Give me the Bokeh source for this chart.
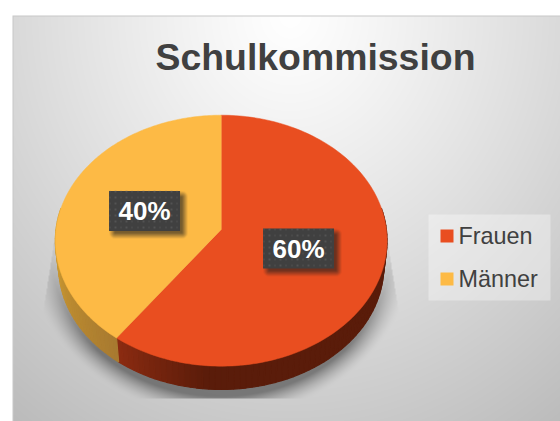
import numpy as np
from bokeh.embed import file_html
from bokeh.resources import INLINE
from bokeh.plotting import figure
from bokeh.models import Range1d, ColumnDataSource
from bokeh.core.properties import value

title = "Schulkommission"
names = ["Frauen", "Männer"]
shares = [60, 40]
colors = ["#E94E20", "#FDBA45"]

W, H = 560, 421
X0, Y0 = 0, 0
CX, CY = 220.7, 229.0    # pie apex on the image
A, B, K = 165.2, 124.5, 0.0892   # perspective of the disc
DEPTH, SC = 26.0, 0.98


def to_y(Y):
    return 421 - np.asarray(Y, dtype=float)


def disc(theta, f=1.0, s=1.0, dy=0.0):
    u, v = np.sin(theta) * f, -np.cos(theta) * f
    d = 1 - K * v
    return CX + s * A * u / d, CY + dy + s * B * v / d


p = figure(width=W, height=H, output_backend="svg", toolbar_location=None,
           x_range=Range1d(X0, X0 + W), y_range=Range1d(0, H), min_border=0,
           outline_line_color=None, background_fill_color="white", border_fill_color="white")
p.axis.visible = False
p.grid.visible = False

# Background: gradient, frame and the pie's soft shadow
yy, xx = np.mgrid[Y0 + 0.5:421 + 0.5:1, X0 + 0.5:X0 + W + 0.5:1]
t = np.sqrt(((xx - 290) / 390) ** 2 + ((yy - 15) / 430) ** 2)
g = 255 - 56 * np.clip(t, 0, 1.25) ** 1.15
rr = np.sqrt(((xx - 220.5) / 171) ** 2 + ((yy - 246) / 150) ** 2)
dist = np.clip((rr - 1) * 150, 0, None)
sh = 0.42 * np.clip(1 - dist / 20, 0, 1) ** 1.6
slope = (yy - 240) * 11 / 70
mask = (yy > 240) & (yy < 398) & (xx > np.maximum(54 - slope, 43)) & (xx < np.minimum(387 + slope, 398))
ramp = np.clip((yy - 240) / 110, 0.15, 1)
sh = sh * mask * ramp
g = g * (1 - sh)
bg = np.zeros(g.shape + (4,), dtype=np.uint8)
bg[..., :3] = np.clip(g, 0, 255)[..., None].astype(np.uint8)
bg[..., 3] = 255
white = (xx < 12) | (yy < 15)
bg[white, :3] = 255
edge = ((xx >= 12) & (xx < 13) & (yy >= 15)) | ((yy >= 15) & (yy < 16) & (xx >= 12))
bg[edge, :3] = 200
img = bg.view(np.uint32).reshape(g.shape)[::-1]
p.image_rgba(image=[img], x=X0, y=0, dw=W, dh=H)

# Pie geometry from the shares
fracs = np.array(shares, dtype=float) / sum(shares)
edges = np.concatenate([[0], np.cumsum(fracs)]) * 2 * np.pi

# Side wall strips
side_xs, side_ys, side_cols = [], [], []
strips = np.radians(np.linspace(80, 280, 101))


def mix(c1, c2, q):
    a = np.array([int(c1[i:i + 2], 16) for i in (1, 3, 5)], float)
    b = np.array([int(c2[i:i + 2], 16) for i in (1, 3, 5)], float)
    return "#%02x%02x%02x" % tuple(int(x) for x in a + (b - a) * q)


for a0, a1 in zip(strips[:-1], strips[1:]):
    for i in range(len(shares)):
        lo, hi = max(a0, edges[i]), min(a1, edges[i + 1])
        if hi <= lo:
            continue
        th = np.array([lo, hi])
        tx, ty = disc(th)
        bx, by = disc(th, s=SC, dy=DEPTH)
        side_xs.append([tx[0], tx[1], bx[1], bx[0]])
        side_ys.append(list(to_y([ty[0], ty[1], by[1], by[0]])))
        mid = (lo + hi) / 2
        if i == 0:
            q = np.clip((edges[1] - mid) / np.radians(32), 0, 1)
            side_cols.append(mix("#8C2C12", "#5A1C0A", q))
        else:
            q = np.clip((mid - edges[1]) / np.radians(50), 0, 1)
            side_cols.append(mix("#A87A30", "#CC9A32", q))
p.patches(side_xs, side_ys, fill_color=side_cols, line_color=side_cols, line_width=1.2)

# Top slices
for i, c in enumerate(colors):
    th = np.linspace(edges[i], edges[i + 1], 160)
    x, y = disc(th)
    x = np.concatenate([[CX], x])
    y = to_y(np.concatenate([[CY], y]))
    p.patch(x, y, fill_color=c, line_color=c, line_width=0.5)

# Data labels
BW, BH = 71, 40
mids = (edges[:-1] + edges[1:]) / 2
lx, ly = disc(mids, f=0.49)
lx = lx - 0.7
texts = ["%d%%" % s for s in shares]

# label shadows (on top of the pie)
ov = np.zeros(g.shape, dtype=float)
for cx, cy in zip(lx, ly):
    dx = np.clip(np.abs(xx - (cx + 4)) - BW / 2 + 2, 0, None)
    dy = np.clip(np.abs(yy - (cy + 4)) - BH / 2 + 2, 0, None)
    ov = np.maximum(ov, 0.6 * np.clip(1 - np.hypot(dx, dy) / 6, 0, 1))
ovr = np.zeros(g.shape + (4,), dtype=np.uint8)
ovr[..., :3] = 30
ovr[..., 3] = (ov * 255).astype(np.uint8)
p.image_rgba(image=[ovr.view(np.uint32).reshape(g.shape)[::-1]], x=X0, y=0, dw=W, dh=H)

p.rect(lx, to_y(ly), width=BW, height=BH, fill_color="#404040", line_color=None)

# dotted fill of the boxes
dots = np.zeros(g.shape + (4,), dtype=np.uint8)
dots[..., :3] = 120
for cx, cy in zip(lx, ly):
    ins = (np.abs(xx - cx) < BW / 2) & (np.abs(yy - cy) < BH / 2)
    on = (((xx - cx + BW / 2) % 5.6) < 1.5) & (((yy - cy + BH / 2) % 6) < 1.5)
    dots[..., 3][ins & on] = 90
p.image_rgba(image=[dots.view(np.uint32).reshape(g.shape)[::-1]], x=X0, y=0, dw=W, dh=H)

src = ColumnDataSource(dict(x=lx, y=to_y(ly), t=texts))
p.text("x", "y", text="t", source=src, text_color="white", text_align="center", text_baseline="middle",
       text_font=value("Liberation Sans"), text_font_style="bold", text_font_size="26px")

# Title
p.text([315], [float(to_y(56.5))], text=[title], text_align="center", text_baseline="middle",
       text_font=value("Liberation Sans"), text_font_style="bold", text_font_size="37.4px",
       text_color="#404040")

# Legend, laid out by hand to follow the reference's box
rows = np.arange(len(names))
row_y = 235.5 + 43 * rows
p.quad(left=[428], right=[550], bottom=[float(to_y(300))], top=[float(to_y(214))],
       fill_color="white", fill_alpha=0.35, line_color=None)
p.rect([446.5] * len(names), to_y(row_y), width=13, height=13, fill_color=colors, line_color=None)
p.text([458] * len(names), to_y(row_y), text=names, text_align="left", text_baseline="middle",
       text_font=value("Liberation Sans"), text_font_size="23.4px", text_color="#404040")

open("out.html", "w").write(file_html(p, INLINE))
